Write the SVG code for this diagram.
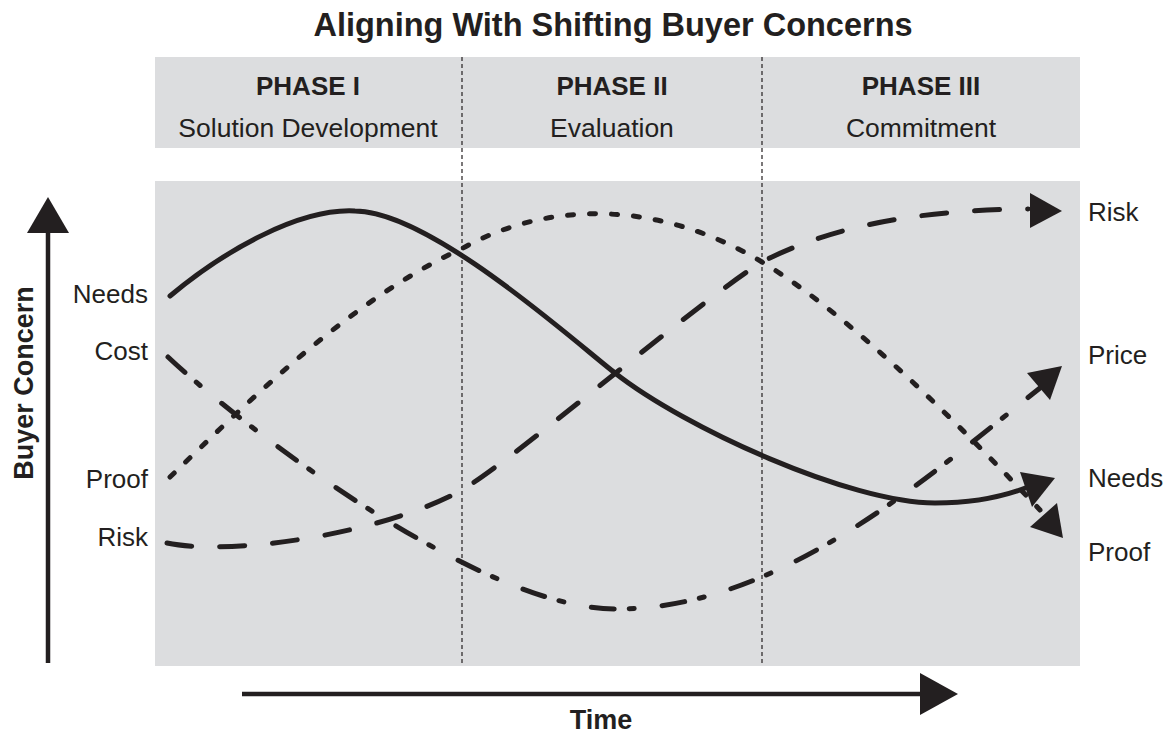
<svg xmlns="http://www.w3.org/2000/svg" width="1175" height="733" viewBox="0 0 1175 733">
<style>
.bg{fill:#dcdddf}
.t{font-family:"Liberation Sans",Arial,sans-serif;fill:#231f20}
.b{font-weight:bold}
.div{stroke:#231f20;stroke-width:1.2;stroke-dasharray:4 3;fill:none}
.c{fill:none;stroke:#231f20;stroke-width:5;stroke-linecap:round}
.ah{fill:#231f20}
.ax{stroke:#231f20;stroke-width:4.5;fill:none}
</style>
<rect width="1175" height="733" fill="#ffffff"/>
<g id="title"><text class="t b" x="613" y="36" font-size="32.5" text-anchor="middle">Aligning With Shifting Buyer Concerns</text></g>
<g id="header">
<rect class="bg" x="155" y="57" width="925" height="91"/>
<text class="t b" x="308" y="95" font-size="26" text-anchor="middle">PHASE I</text>
<text class="t" x="308" y="137" font-size="26.5" text-anchor="middle">Solution Development</text>
<text class="t b" x="612" y="95" font-size="26" text-anchor="middle">PHASE II</text>
<text class="t" x="612" y="137" font-size="26.5" text-anchor="middle">Evaluation</text>
<text class="t b" x="921" y="95" font-size="26" text-anchor="middle">PHASE III</text>
<text class="t" x="921" y="137" font-size="26.5" text-anchor="middle">Commitment</text>
</g>
<g id="plot"><rect class="bg" x="155" y="181" width="925" height="485"/></g>
<g id="dividers">
<line class="div" x1="462" y1="57" x2="462" y2="666"/>
<line class="div" x1="762" y1="57" x2="762" y2="666"/>
</g>
<g id="y-axis">
<line class="ax" x1="48" y1="663" x2="48" y2="230"/>
<polygon class="ah" points="27,233 48,197 69,233"/>
<text class="t b" font-size="27" text-anchor="middle" transform="translate(33,383) rotate(-90)">Buyer Concern</text>
</g>
<g id="x-axis">
<line class="ax" x1="242" y1="694" x2="924" y2="694"/>
<polygon class="ah" points="920,673 958,694 920,715"/>
<text class="t b" x="601" y="729" font-size="27" text-anchor="middle">Time</text>
</g>
<g id="left-labels" class="t" font-size="26" text-anchor="end">
<text x="148" y="303">Needs</text>
<text x="148" y="360">Cost</text>
<text x="148" y="488">Proof</text>
<text x="148" y="546">Risk</text>
</g>
<g id="right-labels" class="t" font-size="26">
<text x="1088" y="221">Risk</text>
<text x="1088" y="364">Price</text>
<text x="1088" y="487">Needs</text>
<text x="1088" y="561">Proof</text>
</g>
<g id="connectors">
<g id="needs-curve">
<path class="c" d="M170,296 C225,250 300,208 355,211 C430,211 575,342 615,373 C685,428 850,503 935,503 C975,503 1005,496 1028,487"/>
<polygon class="ah" points="1020,472 1055,478 1032,507"/>
</g>
<g id="proof-curve">
<path class="c" stroke-dasharray="6 16" d="M170,477 C250,400 350,300 463,248 C540,205 650,195 762,262 C850,315 960,425 1040,510"/>
<polygon class="ah" points="1030,527 1057,503 1063,538"/>
</g>
<g id="risk-curve">
<path class="c" stroke-dasharray="25 28" d="M167,543 C230,556 380,535 462,490 C520,455 700,300 762,262 C820,232 900,210 1028,209"/>
<polygon class="ah" points="1030,193 1062,211 1030,228"/>
</g>
<g id="cost-price-curve">
<path class="c" stroke-dasharray="23 15 5 28" d="M168,357 C240,425 480,609 615,609 C780,610 930,475 1040,388"/>
<polygon class="ah" points="1027,373 1062,366 1050,400"/>
</g>
</g>
</svg>
